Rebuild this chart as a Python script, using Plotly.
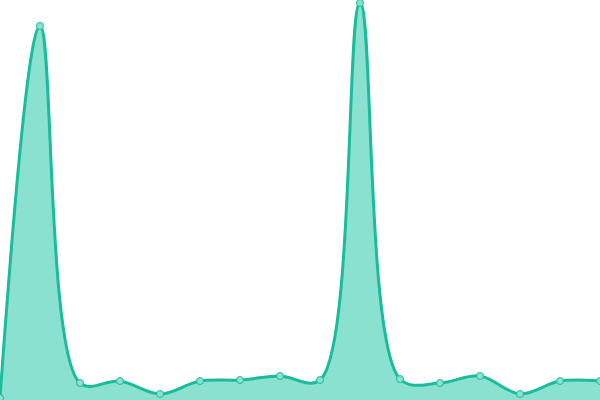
import plotly.graph_objects as go

# 16 points, evenly spaced across the width
x_vals = list(range(16))
y_vals = [2, 374, 17, 19, 6, 19, 20, 24, 20, 397, 21, 17, 24, 6, 19, 19]

fig = go.Figure()
fig.add_trace(go.Scatter(
    x=x_vals,
    y=y_vals,
    mode='lines+markers',
    line=dict(shape='spline', smoothing=1, color='#1abc9c', width=3),
    marker=dict(size=7, color='#8ae1cf', line=dict(color='#1abc9c', width=1)),
    fill='tozeroy',
    fillcolor='#8ae1cf',
    cliponaxis=False,
    hoverinfo='skip'
))

fig.update_layout(
    width=600,
    height=400,
    margin=dict(l=0, r=0, t=0, b=0),
    paper_bgcolor='white',
    plot_bgcolor='white',
    showlegend=False,
    xaxis=dict(visible=False, range=[0, 15], fixedrange=True),
    yaxis=dict(visible=False, range=[0, 400], fixedrange=True),
)

# drop the page's default body margin so the chart sits at the corner
fig.write_html("out.html", config={'displayModeBar': False},
               post_script="document.body.style.margin='0';")
